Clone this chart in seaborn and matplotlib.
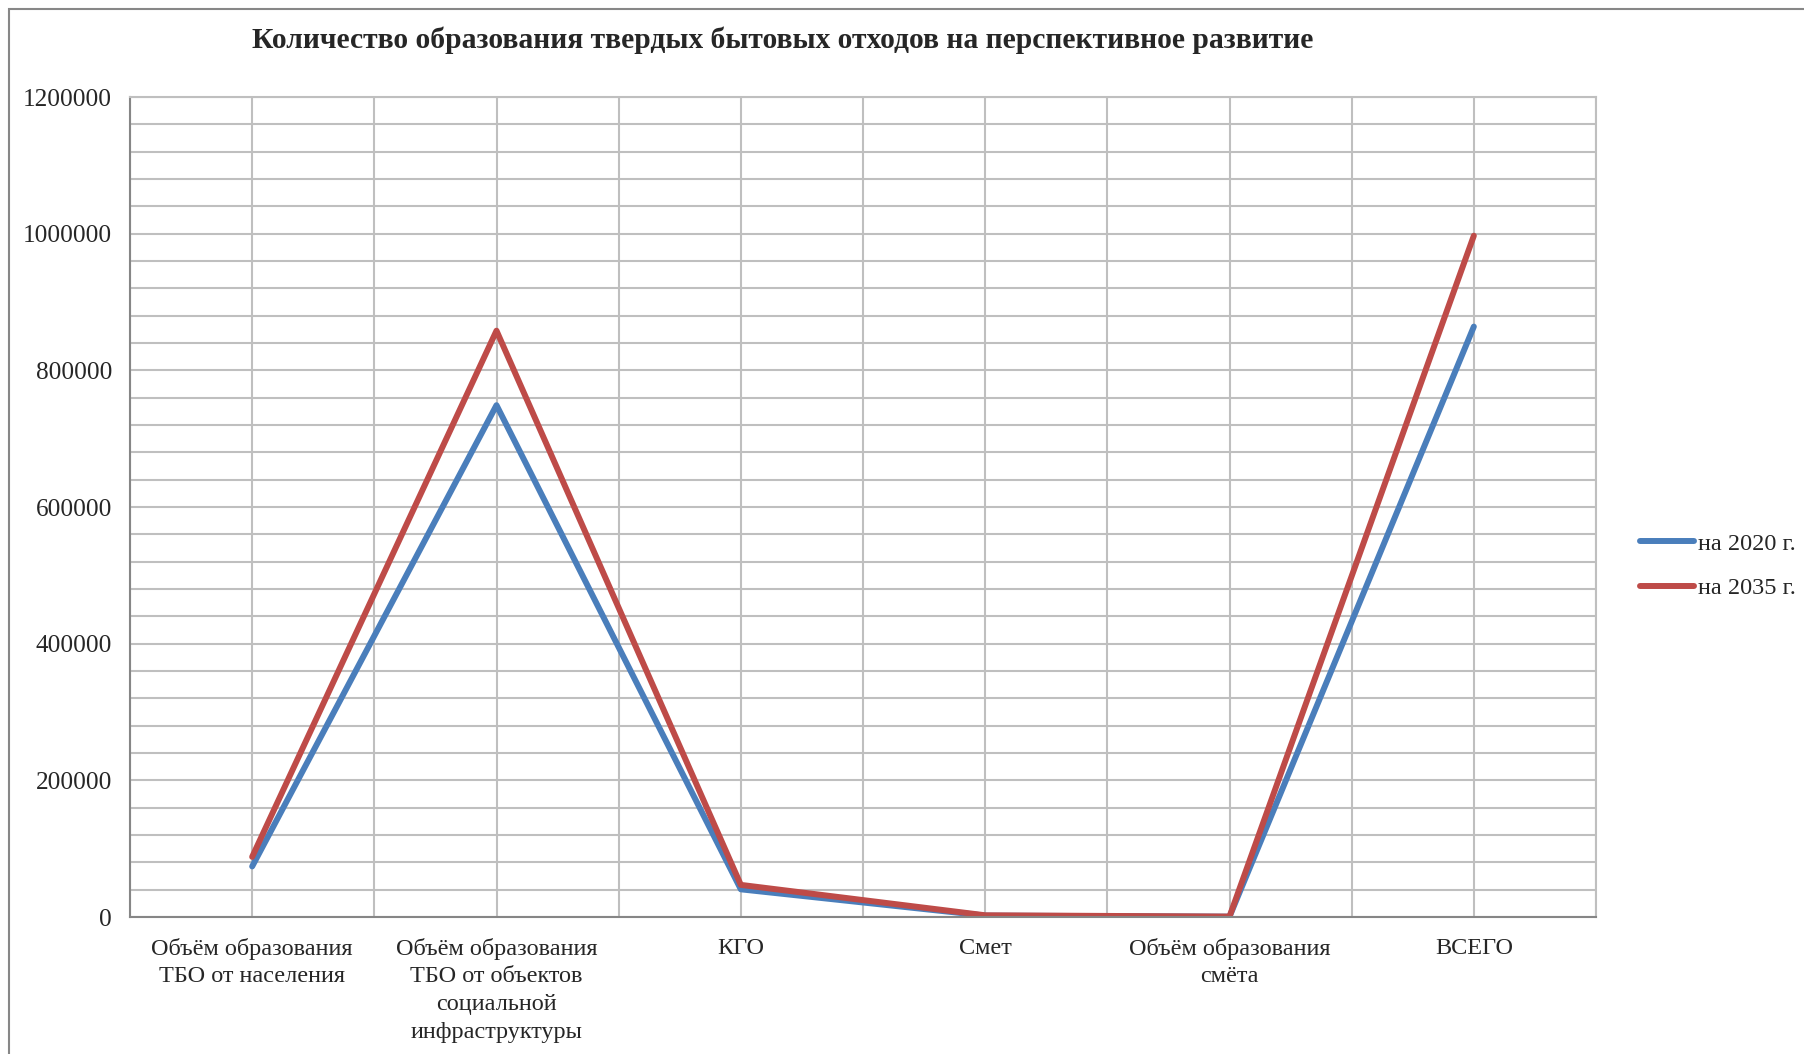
import numpy as np
import pandas as pd
import matplotlib
matplotlib.use('Agg')
import matplotlib.pyplot as plt
from matplotlib.patches import Rectangle
from matplotlib.ticker import MultipleLocator
import seaborn as sns

# данные
categories = ['Объём образования\nТБО от населения',
              'Объём образования\nТБО от объектов\nсоциальной\nинфраструктуры',
              'КГО',
              'Смет',
              'Объём образования\nсмёта',
              'ВСЕГО']
values_2020 = [74000, 749000, 40500, 2000, 500, 864000]
values_2035 = [88000, 858000, 47000, 2500, 600, 997000]
series_names = ['на 2020 г.', 'на 2035 г.']
colors = ['#4A7EBB', '#BE4B48']

pos = np.arange(len(categories))
df = pd.DataFrame({'pos': np.concatenate([pos, pos]),
                   'value': values_2020 + values_2035,
                   'series': [series_names[0]] * len(pos) + [series_names[1]] * len(pos)})

sns.set_style('white')
plt.rcParams['font.family'] = ['Liberation Serif', 'DejaVu Serif']

fig = plt.figure(figsize=(18.04, 10.54), dpi=100)
ax = fig.add_axes([130 / 1804, 1 - 917 / 1054, (1596 - 130) / 1804, (917 - 97) / 1054])

sns.lineplot(data=df, x='pos', y='value', hue='series', palette=colors,
             linewidth=4.3, ax=ax, sort=False, legend=True)

ax.set_xlim(-0.5, len(categories) - 0.5)
ax.set_ylim(0, 1200000)

# подписи категорий в центрах, деления на границах
ax.set_xticks(pos)
ax.set_xticklabels(categories, fontsize=17.5, linespacing=1.41)
ax.set_xticks(np.arange(-0.5, len(categories)), minor=True)
ax.tick_params(axis='x', which='major', length=0, pad=15)
ax.tick_params(axis='x', which='minor', length=7, width=1.3, color='#868686', direction='out')

ax.yaxis.set_major_locator(MultipleLocator(200000))
ax.yaxis.set_minor_locator(MultipleLocator(40000))
ax.yaxis.set_major_formatter(matplotlib.ticker.FuncFormatter(lambda v, p: '%d' % v))
ax.tick_params(axis='y', which='major', labelsize=18.2, length=7, width=1.3, color='#868686',
               direction='out', pad=6)
ax.tick_params(axis='y', which='minor', length=0)

ax.grid(True, which='both', color='#BFBFBF', linewidth=1.5)
ax.set_axisbelow(True)
for side in ['top', 'right']:
    ax.spines[side].set_color('#BFBFBF')
    ax.spines[side].set_linewidth(1.5)
for side in ['left', 'bottom']:
    ax.spines[side].set_color('#868686')
    ax.spines[side].set_linewidth(1.5)

ax.set_xlabel('')
ax.set_ylabel('')

ax.legend_.remove()
leg = fig.legend(*ax.get_legend_handles_labels(), loc='center left',
                 bbox_to_anchor=(0.897, 0.463), frameon=False, fontsize=17.5,
                 handlelength=2.2, handletextpad=0.2, labelspacing=0.92)

fig.text(0.4337, 0.962, 'Количество образования твердых бытовых отходов на перспективное развитие',
         ha='center', va='center', fontsize=21.3, fontweight='bold')

# серая рамка области диаграммы
fig.patches.append(Rectangle((9 / 1804, -0.1), 1.2, 1.1 - 9 / 1054, transform=fig.transFigure,
                             fill=False, edgecolor='#878787', linewidth=1.5))

fig.savefig('out.png', dpi=100)
plt.close()
